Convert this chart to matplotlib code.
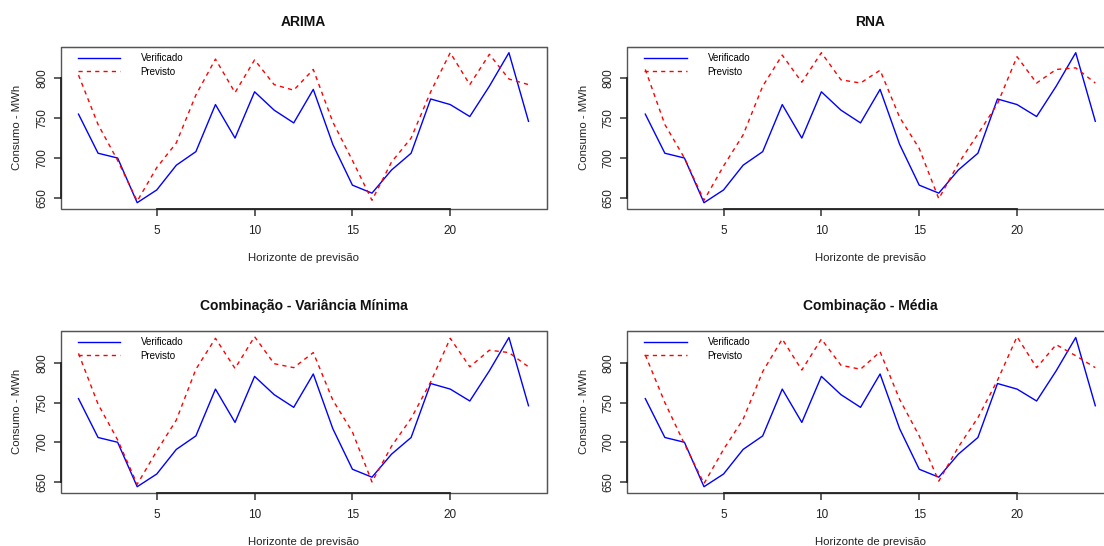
import numpy as np
import matplotlib
matplotlib.use("Agg")
import matplotlib.pyplot as plt
from matplotlib.patches import Rectangle

plt.rcParams["font.family"] = ["Liberation Sans", "DejaVu Sans"]

# -- Data --

horizonte = np.arange(1, 25)

verificado = [755, 706, 700, 644, 660, 691, 708, 767, 725, 783, 760, 744,
              786, 717, 666, 656, 685, 706, 774, 767, 752, 790, 832, 746]

prev_arima = [804, 742, 697, 646, 688, 719, 779, 824, 782, 823, 792, 785,
              811, 745, 697, 647, 695, 725, 783, 832, 792, 830, 799, 792]
prev_rna = [811, 742, 700, 647, 690, 729, 790, 829, 795, 832, 798, 794,
            810, 751, 712, 649, 693, 730, 768, 827, 794, 811, 813, 794]
prev_varmin = [812, 748, 703, 647, 689, 728, 792, 831, 793, 833, 799, 794,
               813, 753, 713, 650, 695, 730, 776, 831, 795, 816, 813, 795]
prev_media = [810, 750, 698, 648, 691, 729, 789, 830, 791, 830, 797, 792,
              814, 754, 708, 651, 694, 731, 778, 833, 794, 823, 809, 794]

titulos = ["ARIMA", "RNA", "Combinação - Variância Mínima", "Combinação - Média"]
previstos = [prev_arima, prev_rna, prev_varmin, prev_media]

xticks = [5, 10, 15, 20]
yticks = [650, 700, 750, 800]

# -- Layout (pixel boxes of the R panels; right column runs off the page) --

W, H = 1104, 546
fig = plt.figure(figsize=(W / 100, H / 100), dpi=100)

lefts = [60.5, 627.3]
tops = [46.7, 330.7]
pw, ph = 486.0, 162.0

for i, (titulo, prev) in enumerate(zip(titulos, previstos)):
    row, col = divmod(i, 2)
    ax = fig.add_axes([lefts[col] / W, 1 - (tops[row] + ph) / H, pw / W, ph / H])

    ax.plot(horizonte, verificado, color="#0000FF", lw=1.0, label="Verificado")
    ax.plot(horizonte, prev, color="#FF0000", lw=1.0, dashes=(3, 3),
            label="Previsto")
    ax.margins(x=0.04, y=0.04)

    ax.set_xticks(xticks)
    ax.set_yticks(yticks)
    ax.tick_params(direction="out", length=5, width=1.1, color="#333333",
                   labelsize=8.5, labelcolor="#222222")
    ax.tick_params(axis="x", pad=6.5)
    ax.tick_params(axis="y", pad=4, labelrotation=90)
    for lab in ax.get_yticklabels():
        lab.set_va("center")

    # R-style box, with the axis line drawn darker from first to last tick
    ax.spines["top"].set_color("#555555")
    ax.spines["right"].set_color("#555555")
    ax.spines["bottom"].set_bounds(xticks[0], xticks[-1])
    ax.spines["left"].set_bounds(yticks[0], yticks[-1])
    for s in ["bottom", "left"]:
        ax.spines[s].set_color("#222222")
        ax.spines[s].set_linewidth(1.3)
    ax.add_patch(Rectangle((0, 0), 1, 1, transform=ax.transAxes, fill=False,
                           lw=1.0, ec="#555555", clip_on=False, zorder=0.5))

    ax.set_title(titulo, fontsize=10, fontweight="bold", pad=15, color="#111111")
    ax.set_xlabel("Horizonte de previsão", fontsize=8.2, labelpad=12,
                  color="#222222")
    ax.set_ylabel("Consumo - MWh", fontsize=8.2, labelpad=10, color="#222222")

    ax.legend(loc="upper left", bbox_to_anchor=(0.035, 0.96), frameon=False,
              borderaxespad=0, borderpad=0, handlelength=4.4,
              handletextpad=2.1, labelspacing=0.35, fontsize=7)

fig.savefig("out.png", dpi=100)
